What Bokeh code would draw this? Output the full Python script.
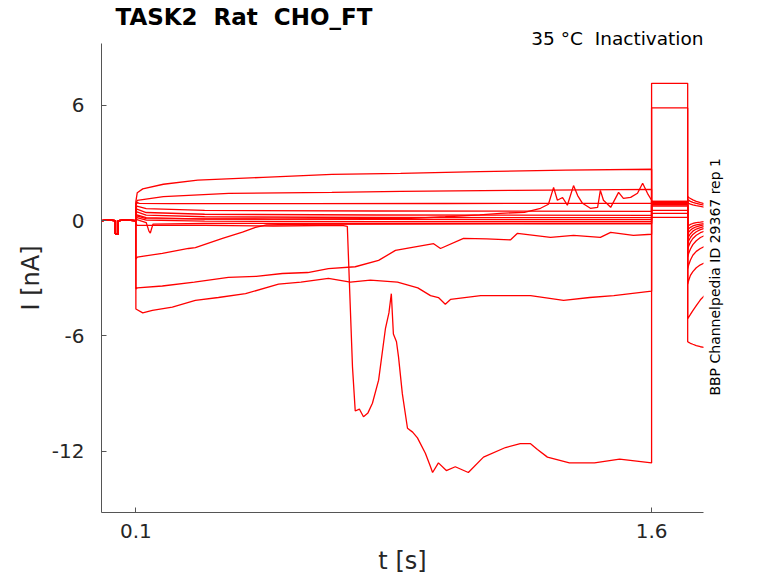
import math
from bokeh.plotting import figure
from bokeh.models import Range1d, FixedTicker, Title, LinearAxis
from bokeh.embed import file_html
from bokeh.resources import INLINE

title_text = "TASK2 \u00a0Rat \u00a0CHO_FT"
subtitle_text = "35 °C \u00a0Inactivation"
side_text = "BBP Channelpedia ID 29367 rep 1"
x_label = "t [s]"
y_label = "I [nA]"
x_ticks = [0.1, 1.6]
y_ticks = [-12, -6, 0, 6]

# holding segment shared by all sweeps (t in s, I in nA)
pre_t = [0.0, 0.02, 0.0405, 0.0405, 0.049, 0.049, 0.07, 0.1]
pre_i = [0.0, 0.02, 0.0, -0.7, -0.7, 0.0, 0.02, 0.0]

# test pulse and tail time points
test_t = [1.6, 1.705]
tail_t = [1.705, 1.708, 1.713, 1.72, 1.73, 1.742, 1.754]

band_t = [0.1, 0.103, 0.13, 0.3, 0.8, 1.6]

a_t = [0.1, 0.104, 0.12, 0.18, 0.28, 0.47, 0.67, 0.87, 1.1, 1.35, 1.6]
a_i = [1.0, 1.45, 1.65, 1.89, 2.1, 2.25, 2.4, 2.46, 2.55, 2.62, 2.67]
a_test = 0.95
a_tail = [1.25, 1.2, 1.15, 1.08, 1.0, 0.93, 0.88]

b_t = [0.1, 0.104, 0.18, 0.37, 0.67, 0.87, 1.2, 1.6]
b_i = [0.9, 1.05, 1.25, 1.42, 1.47, 1.52, 1.57, 1.62]
b_test = 0.9
b_tail = [1.1, 1.05, 1.0, 0.95, 0.9, 0.84, 0.8]

c_t = [0.1, 0.103, 0.11, 0.2, 0.6, 1.0, 1.6]
c_i = [0.75, 0.95, 0.9, 0.88, 0.88, 0.89, 0.9]
c_test = 1.0
c_tail = [0.95, 0.9, 0.86, 0.82, 0.78, 0.74, 0.7]

d_i = [0.6, 0.75, 0.62, 0.53, 0.5, 0.48]
d_test = 0.8
d_tail = [-0.3, -0.25, -0.2, -0.15, -0.1, -0.08, -0.05]

e_i = [0.45, 0.6, 0.42, 0.33, 0.29, 0.27]
e_test = 0.85
e_tail = [-0.5, -0.42, -0.35, -0.28, -0.22, -0.18, -0.15]

f_i = [0.3, 0.45, 0.28, 0.2, 0.16, 0.15]
f_test = 0.9
f_tail = [-0.7, -0.6, -0.5, -0.4, -0.32, -0.26, -0.22]

g_i = [0.15, 0.3, 0.15, 0.08, 0.06, 0.05]
g_test = 0.95
g_tail = [-0.95, -0.82, -0.68, -0.55, -0.44, -0.36, -0.3]

h_i = [0.05, 0.15, 0.02, -0.03, -0.05, -0.05]
h_test = 1.0
h_tail = [-1.2, -1.05, -0.88, -0.72, -0.58, -0.47, -0.4]

i_t = [0.1, 0.103, 0.13, 0.138, 0.142, 0.146, 0.15, 0.3, 0.8, 1.6]
i_i = [-0.05, 0.05, -0.1, -0.55, -0.65, -0.4, -0.18, -0.15, -0.14, -0.15]
i_test = 0.75
i_tail = [-1.5, -1.32, -1.12, -0.93, -0.76, -0.63, -0.55]

j_t = [0.1, 0.103, 0.13, 0.5, 0.9, 1.0, 1.1, 1.16, 1.23, 1.277,
       1.3, 1.315, 1.326, 1.341, 1.355, 1.373, 1.385, 1.399, 1.422, 1.443,
       1.451, 1.46, 1.481, 1.504, 1.518, 1.539, 1.559, 1.574, 1.588, 1.6]
j_i = [0.1, 0.25, 0.1, 0.08, 0.12, 0.2, 0.3, 0.38, 0.43, 0.64,
       0.85, 1.73, 1.06, 1.2, 0.8, 1.82, 1.3, 0.9, 0.64, 0.69,
       1.57, 1.06, 0.69, 1.47, 1.16, 1.21, 1.42, 1.94, 1.42, 1.06]
j_test = 0.53
j_tail = [-1.9, -1.7, -1.48, -1.25, -1.05, -0.88, -0.78]

k_t = [0.1, 0.104, 0.177, 0.253, 0.273, 0.352, 0.41, 0.448, 0.48, 0.55, 0.9, 1.3, 1.6]
k_i = [-2.0, -1.9, -1.7, -1.45, -1.4, -0.92, -0.6, -0.35, -0.22, -0.2, -0.18, -0.17, -0.16]
k_test = 0.38
k_tail = [-2.5, -2.3, -2.05, -1.8, -1.6, -1.45, -1.35]

l_t = [0.1, 0.103, 0.3, 0.5, 0.7, 0.715, 0.73, 0.738, 0.75, 0.762,
       0.775, 0.788, 0.806, 0.826, 0.836, 0.843, 0.849, 0.858, 0.864, 0.875,
       0.89, 0.905, 0.919, 0.942, 0.957, 0.963, 0.98, 1.003, 1.029, 1.067,
       1.111, 1.175, 1.218, 1.248, 1.268, 1.297, 1.361, 1.434, 1.507, 1.6]
l_i = [-0.1, -0.25, -0.25, -0.28, -0.25, -0.3, -7.6, -9.9, -9.8, -10.2,
       -10.0, -9.5, -8.3, -5.6, -4.8, -3.8, -5.9, -6.3, -7.1, -9.0,
       -10.8, -11.0, -11.3, -12.1, -12.8, -13.1, -12.6, -13.0, -12.8, -13.1,
       -12.3, -11.8, -11.6, -11.6, -11.9, -12.3, -12.6, -12.6, -12.4, -12.6]
l_test = 7.14
l_tail = [-6.3, -6.33, -6.38, -6.43, -6.5, -6.56, -6.6]

m_t = [0.1, 0.104, 0.177, 0.27, 0.369, 0.45, 0.526, 0.6, 0.66, 0.738,
       0.806, 0.855, 0.9, 0.966, 0.986, 1.053, 1.12, 1.19, 1.21, 1.306,
       1.373, 1.451, 1.481, 1.547, 1.6]
m_i = [-3.55, -3.5, -3.4, -3.2, -2.95, -2.9, -2.75, -2.7, -2.5, -2.4,
       -2.07, -1.55, -1.4, -1.2, -1.45, -0.92, -0.95, -1.0, -0.66, -0.87,
       -0.77, -0.87, -0.61, -0.77, -0.71]
m_test = 0.17
m_tail = [-3.3, -3.1, -2.85, -2.65, -2.45, -2.3, -2.2]

n_t = [0.1, 0.12, 0.148, 0.206, 0.273, 0.34, 0.419, 0.515, 0.58, 0.66,
       0.724, 0.782, 0.861, 0.92, 0.957, 0.98, 1.0, 1.015, 1.103, 1.248,
       1.344, 1.42, 1.49, 1.6]
n_i = [-4.6, -4.8, -4.67, -4.5, -4.15, -4.0, -3.8, -3.3, -3.2, -3.0,
       -3.2, -3.1, -3.2, -3.5, -3.9, -4.0, -4.35, -4.1, -3.9, -3.9,
       -4.15, -4.0, -3.9, -3.67]
n_test = 5.86
n_tail = [-5.1, -5.02, -4.88, -4.68, -4.42, -4.12, -3.9]

sweeps = [
    (a_t, a_i, a_test, a_tail), (b_t, b_i, b_test, b_tail), (c_t, c_i, c_test, c_tail),
    (band_t, d_i, d_test, d_tail), (band_t, e_i, e_test, e_tail), (band_t, f_i, f_test, f_tail),
    (band_t, g_i, g_test, g_tail), (band_t, h_i, h_test, h_tail), (i_t, i_i, i_test, i_tail),
    (j_t, j_i, j_test, j_tail), (k_t, k_i, k_test, k_tail), (m_t, m_i, m_test, m_tail),
    (n_t, n_i, n_test, n_tail), (l_t, l_i, l_test, l_tail),
]

p = figure(width=778, height=583, output_backend="svg", toolbar_location=None,
           x_range=Range1d(0.0, 1.751), y_range=Range1d(-15.18, 9.21),
           min_border_left=101, min_border_right=75, min_border_top=43, min_border_bottom=71)
p.outline_line_color = None
p.grid.visible = False
p.background_fill_color = "white"
p.border_fill_color = "white"

# subtitle closest to the frame, main title above it
p.add_layout(Title(text=subtitle_text, align="right", offset=0, standoff=-11,
                   text_font="DejaVu Sans", text_font_size="18.5px",
                   text_font_style="normal", text_color="black"), "above")
p.add_layout(Title(text=title_text, align="left", offset=14, standoff=3,
                   text_font="DejaVu Sans", text_font_size="23px",
                   text_font_style="bold", text_color="black"), "above")

for st, si, tv, tl in sweeps:
    xs = pre_t + st + test_t + tail_t
    ys = pre_i + si + [tv, tv] + tl
    p.line(xs, ys, line_color="#ff0000", line_width=1.3)

p.xaxis.ticker = FixedTicker(ticks=x_ticks)
p.yaxis.ticker = FixedTicker(ticks=y_ticks)
p.xaxis.major_label_overrides = {t: str(t) for t in x_ticks}
p.yaxis.major_label_overrides = {t: str(t) for t in y_ticks}
p.xaxis.axis_label = x_label
p.yaxis.axis_label = y_label
for ax in (p.xaxis[0], p.yaxis[0]):
    ax.axis_line_color = "#555555"
    ax.axis_line_width = 1
    ax.major_tick_line_color = "#555555"
    ax.major_tick_in = 5
    ax.major_tick_out = 0
    ax.minor_tick_line_color = None
    ax.major_label_text_font = "DejaVu Sans"
    ax.major_label_text_font_size = "20px"
    ax.major_label_text_color = "#262626"
    ax.axis_label_text_font = "DejaVu Sans"
    ax.axis_label_text_font_size = "24px"
    ax.axis_label_text_font_style = "normal"
    ax.axis_label_text_color = "#262626"
p.yaxis.major_label_standoff = 17
p.yaxis.axis_label_standoff = 4
p.xaxis.major_label_standoff = 11
p.xaxis.axis_label_standoff = 6

# side note drawn as the single tick label of an invisible right axis
side_tick = -9.1
side_axis = LinearAxis(ticker=FixedTicker(ticks=[side_tick]),
                       major_label_overrides={side_tick: side_text},
                       major_label_orientation=math.pi / 2,
                       axis_line_color=None, major_tick_line_color=None,
                       minor_tick_line_color=None, major_tick_in=0, major_tick_out=0,
                       major_label_standoff=12,
                       major_label_text_font="DejaVu Sans",
                       major_label_text_font_size="14px",
                       major_label_text_color="black")
p.add_layout(side_axis, "right")

open("out.html", "w").write(file_html(p, INLINE))
